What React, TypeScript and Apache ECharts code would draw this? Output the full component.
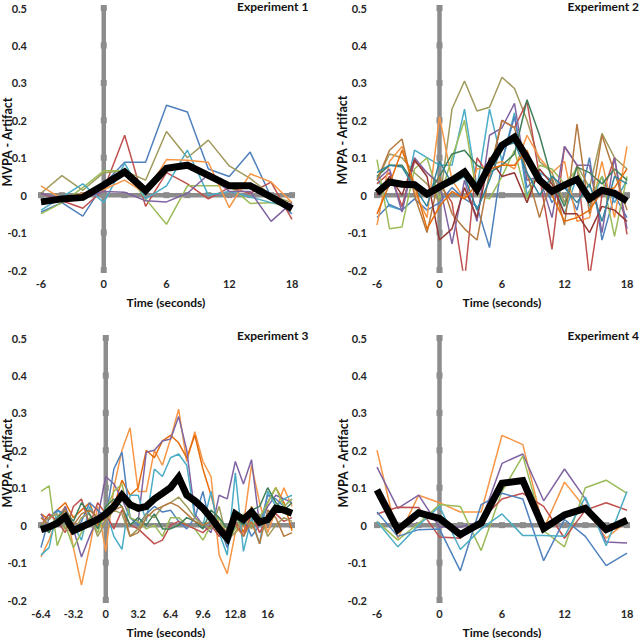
import React, { useEffect, useRef } from "react";
import * as echarts from "echarts";

// ---------- axes / ticks ----------
const yTicks = [-0.2, -0.1, 0, 0.1, 0.2, 0.3, 0.4, 0.5];

// ---------- Experiment 1 ----------
const time1 = [-6, -4, -2, 0, 2, 4, 6, 8, 10, 12, 14, 16, 18];
const exp1Mean = [-0.018, -0.01, -0.006, 0.027, 0.062, 0.012, 0.072, 0.08, 0.053, 0.025, 0.025, -0.005, -0.036];
const exp1Blue = [-0.045, -0.02, -0.056, 0.03, 0.088, 0.088, 0.24, 0.222, 0.07, 0.05, 0.115, -0.005, -0.05];
const exp1Red = [0.005, -0.015, -0.035, 0.015, 0.16, -0.03, 0.06, 0.03, -0.01, 0.02, 0.005, 0.035, -0.065];
const exp1Khaki = [0.005, 0.052, 0.013, 0.06, 0.065, 0.04, 0.17, 0.1, 0.147, 0.078, 0.045, 0.0, -0.02];
const exp1Green = [-0.05, -0.02, 0.02, 0.065, 0.065, -0.01, -0.078, 0.025, 0.025, 0.025, -0.022, -0.02, -0.035];
const exp1Teal = [-0.04, -0.005, 0.03, -0.02, 0.085, -0.01, 0.025, 0.12, 0.0, 0.01, -0.005, -0.02, -0.03];
const exp1Orange = [0.025, -0.01, 0.005, 0.015, 0.04, 0.005, 0.095, 0.093, 0.088, -0.033, 0.057, 0.035, -0.02];
const exp1Purple = [0.005, -0.01, -0.01, 0.01, 0.008, -0.015, -0.018, 0.005, 0.055, 0.01, 0.01, -0.07, -0.02];
const exp1XTicks = [-6, -4, -2, 0, 2, 4, 6, 8, 10, 12, 14, 16, 18];

// ---------- Experiment 2 ----------
const time2 = [-6, -4.8, -3.6, -2.4, -1.2, 0, 1.2, 2.4, 3.6, 4.8, 6, 7.2, 8.4, 9.6, 10.8, 12, 13.2, 14.4, 15.6, 16.8, 18];
const exp2Mean = [0.006, 0.035, 0.029, 0.028, 0.003, 0.022, 0.04, 0.062, 0.015, 0.08, 0.133, 0.155, 0.1, 0.04, 0.01, 0.027, 0.042, -0.01, 0.013, 0.005, -0.016];
const exp2Khaki = [0.04, 0.11, 0.1, 0.06, 0.03, -0.02, 0.23, 0.305, 0.225, 0.235, 0.315, 0.285, 0.2, 0.09, 0.06, -0.02, 0.08, 0.02, 0.165, 0.1, 0.07];
const exp2Teal = [0.05, -0.03, -0.04, 0.12, 0.1, 0.08, 0.08, 0.23, 0.02, 0.23, 0.09, 0.22, 0.0, 0.06, 0.04, -0.05, 0.05, -0.03, 0.05, -0.02, 0.04];
const exp2Blue = [-0.06, -0.025, -0.04, -0.01, -0.04, -0.02, 0.02, -0.01, -0.03, -0.14, 0.09, 0.21, 0.02, 0.06, -0.02, 0.03, -0.04, 0.1, -0.12, 0.0, -0.06];
const exp2Red = [0.03, 0.06, -0.03, 0.09, 0.06, 0.03, -0.02, -0.23, 0.1, 0.05, 0.2, 0.18, 0.25, 0.05, -0.145, 0.13, 0.08, -0.22, 0.0, 0.1, -0.105];
const exp2Orange = [-0.08, 0.09, 0.13, 0.01, -0.06, 0.21, 0.04, -0.01, 0.07, 0.08, 0.09, 0.07, 0.16, 0.1, 0.06, 0.09, -0.07, -0.06, 0.09, -0.06, 0.13];
const exp2Green = [0.095, -0.09, -0.085, 0.07, 0.1, -0.01, 0.1, 0.2, 0.0, -0.01, 0.05, 0.12, -0.01, 0.08, 0.07, 0.03, 0.07, -0.01, 0.05, -0.11, 0.05];
const exp2Purple = [0.04, 0.07, -0.045, 0.1, 0.06, 0.03, -0.13, 0.04, -0.07, 0.16, 0.18, 0.245, 0.04, 0.05, -0.06, 0.13, 0.08, 0.08, -0.1, 0.1, -0.09];
const exp2DarkGreen = [0.05, 0.08, 0.08, 0.03, 0.0, 0.05, 0.11, 0.12, 0.08, 0.06, 0.08, 0.11, 0.255, 0.16, 0.04, -0.03, 0.075, 0.06, 0.03, 0.07, 0.04];
const exp2Brown = [0.04, 0.12, 0.15, 0.0, -0.1, 0.05, -0.05, -0.09, -0.12, 0.06, 0.2, 0.18, 0.06, -0.06, 0.05, -0.08, 0.19, -0.05, 0.16, 0.06, -0.04];
const exp2Maroon = [0.0, 0.05, 0.0, 0.095, 0.05, -0.12, -0.09, 0.02, -0.06, 0.1, 0.05, 0.06, -0.02, 0.07, 0.03, -0.05, -0.05, -0.1, -0.03, -0.04, -0.07];
const exp2DarkTeal = [0.06, 0.08, 0.075, 0.02, -0.03, 0.09, 0.03, 0.05, -0.04, 0.04, 0.13, 0.14, 0.06, 0.0, 0.05, 0.02, -0.02, 0.03, -0.07, 0.05, 0.03];
const exp2DarkOrange = [-0.05, 0.03, 0.12, 0.03, -0.09, -0.03, 0.01, -0.01, 0.03, 0.07, 0.08, 0.08, 0.12, 0.03, 0.0, -0.07, -0.06, -0.04, 0.01, 0.02, 0.07];
const exp2XTicks = [-6, 0, 6, 12, 18];

// ---------- Experiment 3 ----------
const time3 = [-6.4, -5.6, -4.8, -4.0, -3.2, -2.4, -1.6, -0.8, 0, 0.8, 1.6, 2.4, 3.2, 4.0, 4.8, 5.6, 6.4, 7.2, 8.0, 8.8, 9.6, 10.4, 11.2, 12.0, 12.8, 13.6, 14.4, 15.2, 16.0, 16.8, 17.6, 18.4];
const exp3Mean = [-0.012, -0.005, 0.005, 0.022, -0.015, -0.005, 0.005, 0.015, 0.03, 0.05, 0.08, 0.055, 0.045, 0.05, 0.07, 0.085, 0.1, 0.128, 0.08, 0.065, 0.045, 0.02, -0.01, -0.035, 0.03, 0.015, 0.035, 0.008, 0.015, 0.045, 0.04, 0.032];
const exp3OrangeA = [-0.085, -0.04, 0.02, 0.05, -0.06, -0.16, -0.06, 0.05, -0.07, 0.1, 0.2, 0.26, 0.09, 0.09, 0.2, 0.16, 0.23, 0.31, 0.17, 0.25, 0.17, 0.13, -0.08, -0.13, -0.02, 0.0, 0.16, 0.06, -0.02, 0.04, 0.1, 0.05];
const exp3OrangeB = [0.03, 0.015, 0.04, 0.06, 0.02, 0.04, 0.06, 0.0, 0.02, 0.05, 0.12, 0.08, 0.1, 0.2, 0.18, 0.225, 0.24, 0.22, 0.18, 0.24, 0.15, 0.08, 0.0, -0.05, 0.03, -0.02, 0.05, 0.0, 0.06, 0.1, 0.06, -0.015];
const exp3Purple = [0.03, -0.01, 0.0, 0.05, -0.01, -0.085, -0.03, 0.02, 0.13, 0.11, 0.07, 0.02, 0.01, 0.195, 0.2, 0.225, 0.23, 0.29, 0.2, 0.03, 0.0, -0.02, 0.08, 0.07, 0.17, 0.11, 0.175, 0.0, 0.05, 0.08, 0.07, 0.06];
const exp3Teal = [-0.08, -0.06, 0.04, 0.02, 0.0, -0.04, 0.05, 0.01, 0.04, -0.03, -0.065, 0.08, 0.08, 0.01, 0.15, 0.13, 0.18, 0.19, 0.16, 0.02, 0.0, 0.09, -0.02, -0.08, 0.14, -0.07, 0.02, -0.05, 0.09, 0.05, 0.07, 0.08];
const exp3Blue = [-0.06, 0.02, 0.04, 0.03, -0.02, 0.01, 0.06, 0.04, 0.02, 0.15, 0.195, 0.02, 0.0, 0.03, 0.05, 0.035, 0.04, 0.01, -0.01, 0.02, 0.09, -0.01, 0.0, -0.06, 0.0, 0.02, -0.03, 0.0, 0.08, 0.07, 0.05, 0.07];
const exp3Green = [0.09, 0.105, -0.055, 0.0, -0.06, -0.02, 0.02, -0.02, 0.04, 0.09, 0.11, 0.02, 0.01, -0.01, 0.0, -0.03, 0.02, 0.02, 0.0, -0.01, -0.04, 0.0, 0.02, -0.04, -0.01, 0.03, 0.0, 0.02, 0.06, 0.1, 0.05, 0.07];
const exp3Red = [0.0, 0.03, 0.01, -0.02, 0.05, 0.07, 0.0, 0.06, 0.03, -0.01, 0.04, 0.0, -0.01, -0.03, -0.05, -0.04, 0.0, 0.01, 0.0, -0.01, -0.02, 0.0, -0.03, -0.01, 0.01, -0.03, 0.03, -0.02, 0.02, 0.03, 0.01, 0.02];
const exp3Khaki = [0.0, 0.02, 0.03, -0.01, -0.02, 0.02, 0.03, -0.03, 0.01, 0.04, 0.03, -0.03, -0.01, 0.03, 0.02, 0.05, 0.06, 0.075, 0.05, 0.02, 0.0, -0.01, 0.05, -0.04, -0.02, 0.02, -0.01, 0.03, -0.03, 0.0, 0.02, 0.01];
const exp3DarkGreen = [0.0, -0.02, 0.02, 0.04, 0.01, 0.06, 0.03, -0.01, 0.05, 0.07, 0.05, 0.0, 0.02, 0.0, 0.03, -0.01, -0.01, 0.0, 0.02, 0.01, -0.01, 0.04, 0.02, -0.01, 0.02, 0.0, 0.04, 0.05, 0.1, 0.06, 0.04, 0.06];
const exp3Brown = [0.02, 0.0, 0.01, 0.04, 0.0, 0.03, 0.04, 0.02, 0.02, 0.04, 0.05, -0.03, -0.02, 0.02, 0.04, 0.05, 0.06, 0.05, 0.03, 0.01, 0.0, 0.01, 0.0, -0.02, 0.0, -0.03, 0.01, -0.05, 0.04, 0.02, -0.03, -0.02];
const exp3XTicks = [-6.4, -3.2, 0, 3.2, 6.4, 9.6, 12.8, 16, 18.4];

// ---------- Experiment 4 ----------
const time4 = [-6, -4, -2, 0, 2, 4, 6, 8, 10, 12, 14, 16, 18];
const exp4Mean = [0.094, -0.012, 0.033, 0.018, -0.025, 0.006, 0.112, 0.119, -0.009, 0.027, 0.045, -0.012, 0.013];
const exp4Orange = [0.2, -0.035, 0.08, 0.06, 0.035, 0.035, 0.24, 0.215, -0.01, 0.115, 0.045, -0.035, 0.01];
const exp4Purple = [0.155, 0.045, 0.08, -0.005, -0.005, 0.01, 0.165, 0.19, 0.065, 0.15, 0.07, -0.045, -0.048];
const exp4Green = [0.01, -0.04, 0.005, 0.055, 0.05, -0.068, 0.09, 0.185, -0.015, -0.058, 0.1, 0.12, 0.085];
const exp4Red = [0.03, 0.048, 0.047, -0.032, -0.035, 0.015, 0.07, 0.085, 0.05, -0.035, 0.04, 0.06, 0.04];
const exp4Blue = [0.035, -0.03, -0.012, -0.01, -0.122, 0.055, 0.085, 0.07, -0.095, 0.015, -0.03, -0.108, -0.075];
const exp4Teal = [0.01, -0.058, 0.0, 0.05, -0.065, -0.01, 0.03, -0.028, -0.028, -0.03, 0.075, -0.055, 0.09];
const exp4XTicks = [-6, -4, -2, 0, 2, 4, 6, 8, 10, 12, 14, 16, 18];

// ---------- colours ----------
const C = {
  blue: "#4F81BD",
  red: "#C0504D",
  green: "#9BBB59",
  purple: "#8064A2",
  teal: "#4BACC6",
  orange: "#F79646",
  khaki: "#A09A5C",
  darkGreen: "#3F7F5A",
  brown: "#B5793F",
  maroon: "#943634",
  darkTeal: "#31859C",
  darkOrange: "#E46C0A",
};
const AXIS_GRAY = "#8C8C8C";
const FONT = "Lato, 'Open Sans', sans-serif";

interface Panel {
  title: string;
  time: number[];
  mean: number[];
  subjects: { color: string; values: number[] }[];
  xTicks: number[];
  xMin: number;
  xMax: number;
  xInterval: number;
  grid: { left: number; top: number; width: number; height: number };
  yLabelMargin: number;
  titlePos: [number, number];
  titleAlign: string;
  xNamePos: [number, number];
  yNamePos: [number, number];
}

const panels: Panel[] = [
  {
    title: "Experiment 1",
    time: time1,
    mean: exp1Mean,
    subjects: [
      { color: C.blue, values: exp1Blue },
      { color: C.red, values: exp1Red },
      { color: C.khaki, values: exp1Khaki },
      { color: C.green, values: exp1Green },
      { color: C.teal, values: exp1Teal },
      { color: C.orange, values: exp1Orange },
      { color: C.purple, values: exp1Purple },
    ],
    xTicks: exp1XTicks,
    xMin: -6,
    xMax: 18,
    xInterval: 6,
    grid: { left: 41, top: 8, width: 251, height: 262 },
    yLabelMargin: 14,
    titlePos: [237, 6],
    titleAlign: "left",
    xNamePos: [166, 302],
    yNamePos: [7, 142],
  },
  {
    title: "Experiment 2",
    time: time2,
    mean: exp2Mean,
    subjects: [
      { color: C.khaki, values: exp2Khaki },
      { color: C.teal, values: exp2Teal },
      { color: C.blue, values: exp2Blue },
      { color: C.red, values: exp2Red },
      { color: C.orange, values: exp2Orange },
      { color: C.green, values: exp2Green },
      { color: C.purple, values: exp2Purple },
      { color: C.darkGreen, values: exp2DarkGreen },
      { color: C.brown, values: exp2Brown },
      { color: C.maroon, values: exp2Maroon },
      { color: C.darkTeal, values: exp2DarkTeal },
      { color: C.darkOrange, values: exp2DarkOrange },
    ],
    xTicks: exp2XTicks,
    xMin: -6,
    xMax: 18,
    xInterval: 6,
    grid: { left: 377, top: 8, width: 250, height: 262 },
    yLabelMargin: 10,
    titlePos: [639, 6],
    titleAlign: "right",
    xNamePos: [502, 302],
    yNamePos: [342, 140],
  },
  {
    title: "Experiment 3",
    time: time3,
    mean: exp3Mean,
    subjects: [
      { color: C.orange, values: exp3OrangeA },
      { color: C.darkOrange, values: exp3OrangeB },
      { color: C.purple, values: exp3Purple },
      { color: C.teal, values: exp3Teal },
      { color: C.blue, values: exp3Blue },
      { color: C.green, values: exp3Green },
      { color: C.red, values: exp3Red },
      { color: C.khaki, values: exp3Khaki },
      { color: C.darkGreen, values: exp3DarkGreen },
      { color: C.brown, values: exp3Brown },
    ],
    xTicks: exp3XTicks,
    xMin: -6.4,
    xMax: 18.4,
    xInterval: 3.2,
    grid: { left: 41, top: 338, width: 251, height: 262 },
    yLabelMargin: 14,
    titlePos: [237, 335],
    titleAlign: "left",
    xNamePos: [166, 632],
    yNamePos: [7, 463],
  },
  {
    title: "Experiment 4",
    time: time4,
    mean: exp4Mean,
    subjects: [
      { color: C.orange, values: exp4Orange },
      { color: C.purple, values: exp4Purple },
      { color: C.green, values: exp4Green },
      { color: C.red, values: exp4Red },
      { color: C.blue, values: exp4Blue },
      { color: C.teal, values: exp4Teal },
    ],
    xTicks: exp4XTicks,
    xMin: -6,
    xMax: 18,
    xInterval: 6,
    grid: { left: 377, top: 338, width: 250, height: 262 },
    yLabelMargin: 10,
    titlePos: [639, 335],
    titleAlign: "right",
    xNamePos: [502, 632],
    yNamePos: [343, 463],
  },
];

function fmtNum(v: number): string {
  const r = Math.round(v * 10) / 10;
  return Math.abs(r) < 1e-9 ? "0" : String(r);
}

function buildOption() {
  const grid: any[] = [];
  const xAxis: any[] = [];
  const yAxis: any[] = [];
  const series: any[] = [];
  const graphic: any[] = [];

  panels.forEach((p, i) => {
    grid.push({ ...p.grid, containLabel: false });
    xAxis.push({
      gridIndex: i,
      type: "value",
      min: p.xMin,
      max: p.xMax,
      interval: p.xInterval,
      axisLine: { show: false },
      axisTick: { show: false },
      splitLine: { show: false },
      axisLabel: {
        margin: 8,
        fontFamily: FONT,
        fontWeight: "bold",
        fontSize: 11,
        color: "#262626",
        showMaxLabel: p.xMax === 18,
        formatter: fmtNum,
      },
    });
    yAxis.push({
      gridIndex: i,
      type: "value",
      min: -0.2,
      max: 0.5,
      interval: 0.1,
      axisLine: { show: false },
      axisTick: { show: false },
      splitLine: { show: false },
      axisLabel: {
        margin: p.yLabelMargin,
        fontFamily: FONT,
        fontWeight: "bold",
        fontSize: 11,
        color: "#262626",
        formatter: fmtNum,
      },
    });

    // gray vertical axis line at time 0
    series.push({
      type: "line",
      xAxisIndex: i,
      yAxisIndex: i,
      data: yTicks.map((v) => [0, v]),
      symbol: "rect",
      symbolSize: 6,
      showSymbol: true,
      lineStyle: { color: AXIS_GRAY, width: 4.5 },
      itemStyle: { color: AXIS_GRAY },
      z: 1,
      silent: true,
    });
    // gray horizontal axis line at 0
    series.push({
      type: "line",
      xAxisIndex: i,
      yAxisIndex: i,
      data: p.xTicks.map((t) => [t, 0]),
      symbol: "rect",
      symbolSize: 6,
      showSymbol: true,
      lineStyle: { color: AXIS_GRAY, width: 4.5 },
      itemStyle: { color: AXIS_GRAY },
      z: 1,
      silent: true,
    });

    p.subjects.forEach((s) => {
      series.push({
        type: "line",
        xAxisIndex: i,
        yAxisIndex: i,
        data: p.time.map((t, k) => [t, s.values[k]]),
        symbol: "none",
        lineStyle: { color: s.color, width: 1.5 },
        itemStyle: { color: s.color },
        z: 2,
        silent: true,
      });
    });

    series.push({
      type: "line",
      xAxisIndex: i,
      yAxisIndex: i,
      data: p.time.map((t, k) => [t, p.mean[k]]),
      symbol: "none",
      lineStyle: { color: "#000000", width: 7, join: "miter" },
      itemStyle: { color: "#000000" },
      z: 3,
      silent: true,
    });

    graphic.push({
      type: "text",
      x: p.titlePos[0],
      y: p.titlePos[1],
      style: {
        text: p.title,
        fill: "#111",
        font: `bold 12px ${FONT}`,
        textAlign: p.titleAlign,
        textVerticalAlign: "middle",
      },
    });
    graphic.push({
      type: "text",
      x: p.xNamePos[0],
      y: p.xNamePos[1],
      style: {
        text: "Time (seconds)",
        fill: "#111",
        font: `bold 12px ${FONT}`,
        textAlign: "center",
        textVerticalAlign: "middle",
      },
    });
    graphic.push({
      type: "text",
      x: p.yNamePos[0],
      y: p.yNamePos[1],
      rotation: Math.PI / 2,
      style: {
        text: "MVPA - Artifact",
        fill: "#111",
        font: `bold 12.5px ${FONT}`,
        textAlign: "center",
        textVerticalAlign: "middle",
      },
    });
  });

  return {
    animation: false,
    backgroundColor: "#ffffff",
    grid,
    xAxis,
    yAxis,
    series,
    graphic,
  };
}

export default function App() {
  const ref = useRef<HTMLDivElement>(null);
  useEffect(() => {
    document.body.style.margin = "0";
    if (!ref.current) return;
    const chart = echarts.init(ref.current, undefined, { renderer: "svg" });
    chart.setOption(buildOption() as any);
    return () => chart.dispose();
  }, []);
  return <div ref={ref} style={{ width: 640, height: 638 }} />;
}
